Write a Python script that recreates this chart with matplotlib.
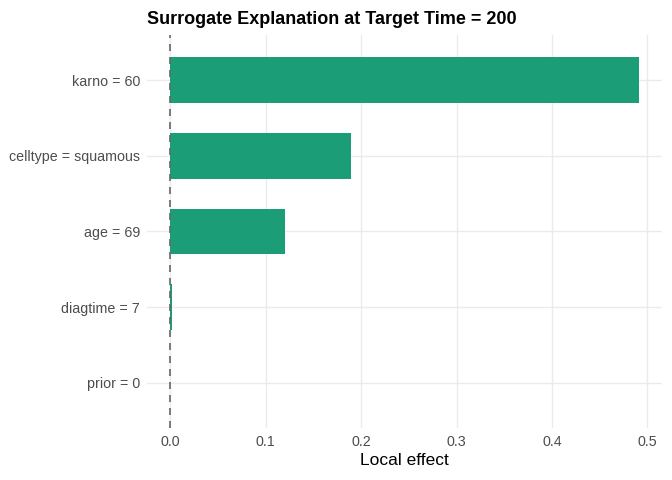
import matplotlib.pyplot as plt
import numpy as np

plt.rcParams["font.family"] = ["Liberation Sans", "DejaVu Sans"]

# features listed bottom -> top
features = ["prior = 0", "diagtime = 7", "age = 69", "celltype = squamous", "karno = 60"]
effects = [0.0, 0.002, 0.120, 0.189, 0.491]
xticks = [0.0, 0.1, 0.2, 0.3, 0.4, 0.5]

bar_color = "#1b9e77"
grid_color = "#ebebeb"

fig = plt.figure(figsize=(6.72, 4.8), dpi=100)
ax = fig.add_axes([0.2188, 0.108, 0.7665, 0.8195])

y = np.arange(len(features))
ax.barh(y, effects, height=0.6, color=bar_color, zorder=3)
ax.axvline(0, color="#666666", linestyle=(0, (4.2, 3.6)), linewidth=1.2, zorder=4)

# ggplot-like expansion
lo, hi = min(0, min(effects)), max(effects)
pad = 0.05 * (hi - lo)
ax.set_xlim(lo - pad, hi + pad)
ax.set_ylim(-0.6, len(features) - 0.4)

ax.set_yticks(y)
ax.set_yticklabels(features)
ax.set_xticks(xticks)
ax.set_xticklabels([f"{v:.1f}" for v in xticks])

ax.grid(True, which="major", color=grid_color, linewidth=1.0, zorder=0)
ax.set_axisbelow(True)
for s in ax.spines.values():
    s.set_visible(False)
ax.tick_params(which="both", length=0, labelsize=10.3, labelcolor="#4d4d4d", pad=5)

ax.set_xlabel("Local effect", fontsize=12.5, color="black", labelpad=3)
ax.set_title("Surrogate Explanation at Target Time = 200", loc="left",
             fontsize=13, fontweight="bold", pad=8)

fig.savefig("out.png", dpi=100)
